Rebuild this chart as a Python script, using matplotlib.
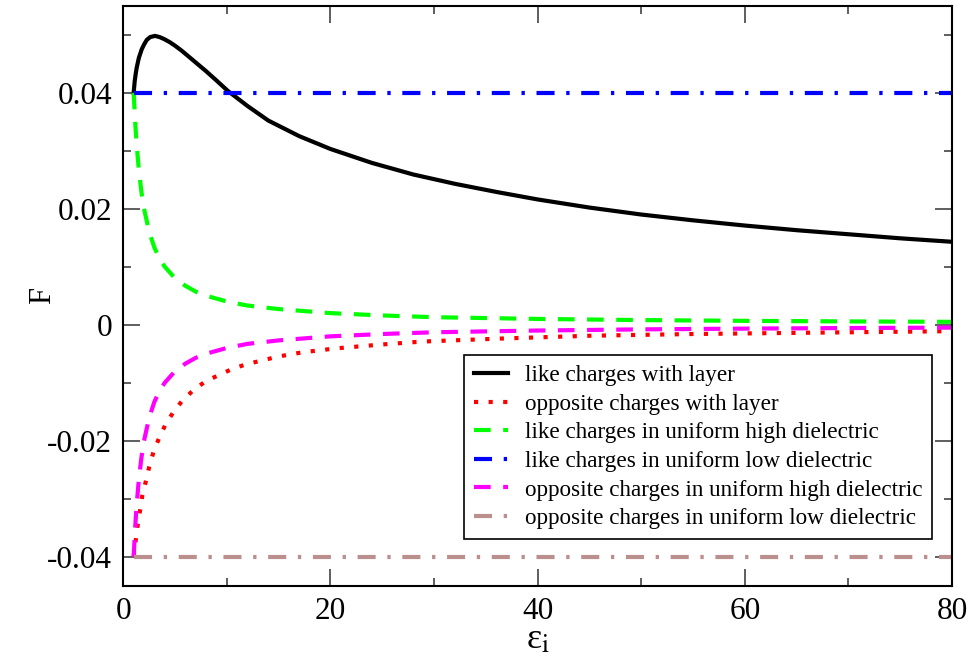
import matplotlib
matplotlib.use("Agg")
import matplotlib.pyplot as plt

# values
eps_layer_like = [1.0, 1.1, 1.2, 1.29, 1.5, 1.78, 2.0, 2.26, 2.6, 3.06, 3.5, 4.0, 4.5, 5.0, 5.6,
                  6.27, 7.0, 8.0, 9.0, 10.1, 12, 14, 17, 20, 24, 28, 32, 36, 40, 45, 50, 55,
                  60, 65, 70, 75, 80]
F_like_layer = [0.0400, 0.0420, 0.0433, 0.0443, 0.0460, 0.0475, 0.0483, 0.0491, 0.0496, 0.0498,
                0.0496, 0.0492, 0.0487, 0.0481, 0.0473, 0.0463, 0.0452, 0.0437, 0.0421, 0.0403,
                0.0377, 0.0352, 0.0325, 0.0303, 0.0279, 0.0259, 0.0243, 0.0229, 0.0216, 0.0202,
                0.0190, 0.0180, 0.0171, 0.0163, 0.0156, 0.0149, 0.0143]

eps_layer_opp = [1.0, 1.1, 1.25, 1.39, 1.61, 1.83, 2.16, 2.5, 2.9, 3.44, 4.05, 4.82, 5.69, 6.75,
                 7.91, 9.2, 10.55, 11.9, 13.3, 14.7, 16.1, 17.55, 19.0, 20.4, 25, 28.9, 36.2,
                 45, 55, 65, 78, 80]
F_opp_layer = [-0.0400, -0.0385, -0.0365, -0.0345, -0.0321, -0.0295, -0.0271, -0.0245, -0.0220,
               -0.0196, -0.0173, -0.0151, -0.0131, -0.0113, -0.0098, -0.0087, -0.0076, -0.0068,
               -0.0062, -0.0056, -0.0051, -0.0047, -0.0044, -0.0041, -0.0034, -0.0029, -0.0024,
               -0.0019, -0.0016, -0.0014, -0.00115, -0.0011]

eps_uniform = [1, 1.15, 1.3, 1.5, 1.75, 2, 2.5, 3, 3.5, 4, 5, 6, 7, 8, 10, 12, 15, 20, 25, 30,
               40, 50, 60, 70, 80]
F_like_high = [0.0400, 0.0348, 0.0308, 0.0267, 0.0229, 0.0200, 0.0160, 0.0133, 0.0114, 0.0100,
               0.0080, 0.0067, 0.0057, 0.0050, 0.0040, 0.0033, 0.0027, 0.0020, 0.0016, 0.0013,
               0.0010, 0.0008, 0.00067, 0.00057, 0.0005]
F_opp_high = [-0.0400, -0.0348, -0.0308, -0.0267, -0.0229, -0.0200, -0.0160, -0.0133, -0.0114,
              -0.0100, -0.0080, -0.0067, -0.0057, -0.0050, -0.0040, -0.0033, -0.0027, -0.0020,
              -0.0016, -0.0013, -0.0010, -0.0008, -0.00067, -0.00057, -0.0005]

eps_flat = [1, 80]
F_like_low = [0.04, 0.04]
F_opp_low = [-0.04, -0.04]

labels = ["like charges with layer",
          "opposite charges with layer",
          "like charges in uniform high dielectric",
          "like charges in uniform low dielectric",
          "opposite charges in uniform high dielectric",
          "opposite charges in uniform low dielectric"]

plt.rcParams['font.family'] = ['Liberation Serif', 'DejaVu Serif']
plt.rcParams['mathtext.fontset'] = 'stix'
plt.rcParams['lines.scale_dashes'] = False

fig = plt.figure(figsize=(9.74, 6.59), dpi=100)
ax = fig.add_axes([0.1266, 0.1112, 0.8508, 0.8801])

lw = 3
dashed = (0, (12, 9))
dashdot = (0, (13, 8.4, 2.4, 8.4))
dotted = (0, (3, 7.5))

ax.plot(eps_layer_like, F_like_layer, color='black', lw=lw, label=labels[0])
ax.plot(eps_layer_opp, F_opp_layer, color='red', lw=lw, linestyle=dotted, label=labels[1])
ax.plot(eps_uniform, F_like_high, color='#00ff00', lw=lw, linestyle=dashed, label=labels[2])
ax.plot(eps_flat, F_like_low, color='blue', lw=lw, linestyle=dashdot, label=labels[3])
ax.plot(eps_uniform, F_opp_high, color='magenta', lw=lw, linestyle=dashed, label=labels[4])
ax.plot(eps_flat, F_opp_low, color='#bc8f8f', lw=lw, linestyle=dashdot, label=labels[5])

ax.set_xlim(0, 80)
ax.set_ylim(-0.045, 0.055)
ax.set_xticks([0, 20, 40, 60, 80])
ax.set_xticks([10, 30, 50, 70], minor=True)
ax.set_yticks([-0.04, -0.02, 0, 0.02, 0.04])
ax.set_yticklabels(["-0.04", "-0.02", "0", "0.02", "0.04"])
ax.set_yticks([-0.03, -0.01, 0.01, 0.03, 0.05], minor=True)
ax.tick_params(which='both', direction='in', top=True, right=True, labelsize=22.5, width=1.1,
               color='#333333')
ax.tick_params(which='major', length=12, pad=8)
ax.tick_params(which='minor', length=6)
for s in ax.spines.values():
    s.set_linewidth(1.5)

ax.set_xlabel("ε$_{\\mathrm{i}}$", fontsize=26, labelpad=-2)
ax.set_ylabel("F", fontsize=22, labelpad=-7)

leg = ax.legend(loc='lower right', bbox_to_anchor=(0.976, 0.0805), borderaxespad=0,
                fontsize=16.7, fancybox=False, framealpha=1, edgecolor='black',
                handlelength=1.47, handletextpad=0.73, labelspacing=0.315, borderpad=0.43)
leg.get_frame().set_linewidth(1.2)

fig.savefig("out.png", dpi=100)
